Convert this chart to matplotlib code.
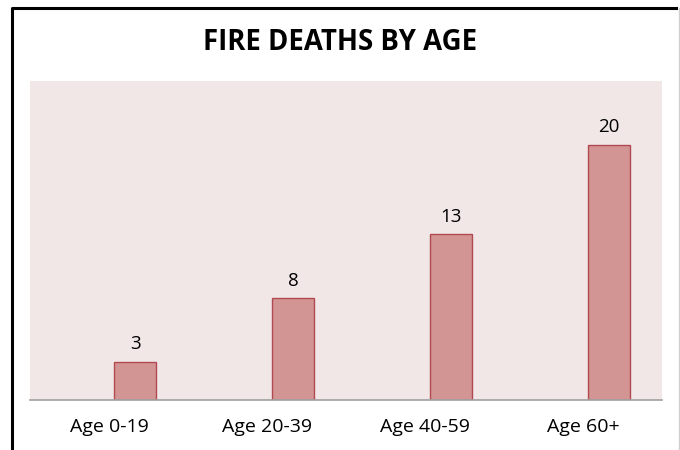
import matplotlib.pyplot as plt
from matplotlib.lines import Line2D

# Chart data
categories = ['Age 0-19', 'Age 20-39', 'Age 40-59', 'Age 60+']
deaths = [3, 8, 13, 20]

plt.rcParams['font.family'] = ['Open Sans', 'DejaVu Sans']

W, H = 680, 450
fig = plt.figure(figsize=(W / 100, H / 100), dpi=100)

# plot area in pixel coords
left, right, top, bottom = 30, 662, 81, 400
ax = fig.add_axes([left / W, 1 - bottom / H, (right - left) / W, (bottom - top) / H])
ax.set_facecolor('#F2E7E7')

x = list(range(len(categories)))
shift = 0.165  # bars sit right of the category label in the original
bars = ax.bar([i + shift for i in x], deaths, width=0.27, color='#D39494',
              edgecolor='#B04A50', linewidth=1)
for b, v in zip(bars, deaths):
    ax.annotate(str(v), (b.get_x() + b.get_width() / 2, v), xytext=(0, 6),
                textcoords='offset points', ha='center', va='bottom', fontsize=13.5)

ax.set_xlim(-0.5, 3.5)
ax.set_ylim(0, 25)
ax.set_xticks(x)
ax.set_xticklabels(categories, fontsize=14)
ax.tick_params(axis='x', length=0, pad=13)
ax.set_yticks([])
for s in ['top', 'right', 'left']:
    ax.spines[s].set_visible(False)
ax.spines['bottom'].set_color('#A0A0A0')
ax.spines['bottom'].set_linewidth(1.2)

fig.text(0.5, 1 - 42 / H, 'FIRE DEATHS BY AGE', ha='center', va='center',
         fontsize=19.8, fontweight='bold')

# outer frame
def px(xp, yp):
    return xp / W, 1 - yp / H

fig.add_artist(Line2D(*zip(px(12, 450), px(12, 7.5), px(676, 7.5)), color='black', linewidth=2.2))
fig.add_artist(Line2D(*zip(px(679, 8), px(679, 450)), color='#D0D0D0', linewidth=1))

fig.savefig('out.png', dpi=100)
